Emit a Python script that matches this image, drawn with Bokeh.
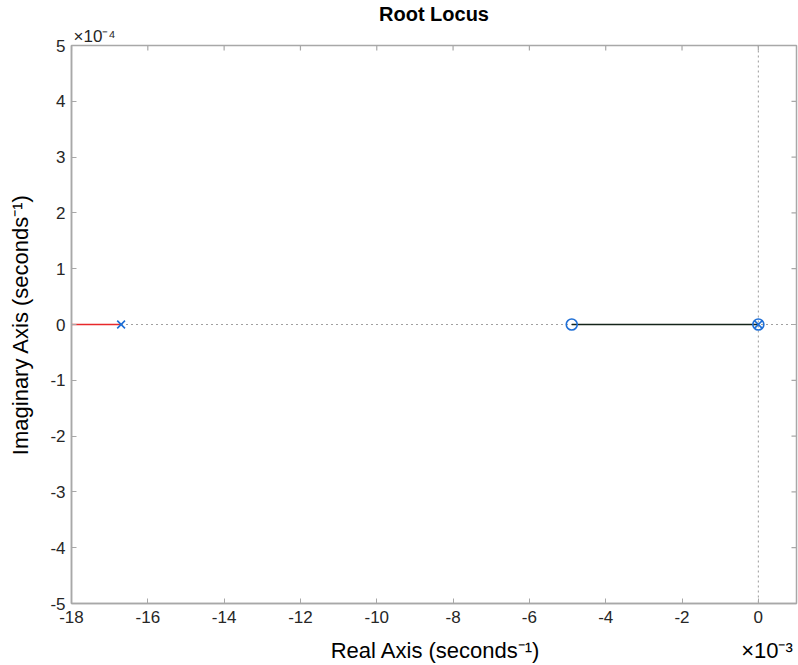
import math
from bokeh.plotting import figure
from bokeh.models import FixedTicker, Span, Title
from bokeh.embed import file_html
from bokeh.resources import INLINE

# open-loop poles and zeros (seconds^-1)
poles_re = [-0.0167, 0.0]
poles_im = [0.0, 0.0]
zeros_re = [-0.00489, 0.0]
zeros_im = [0.0, 0.0]

# axis scaling shown as exponent multipliers
x_scale = 1e3   # x10^-3
y_scale = 1e4   # x10^-4
x_limits = (-18, 1)
y_limits = (-5, 5)
x_ticks = list(range(-18, 1, 2))
y_ticks = list(range(-5, 6))

x_label = "Real Axis (seconds⁻¹)"
y_label = "Imaginary Axis (seconds⁻¹)"
x_exponent = "×10⁻³"
y_exponent = "×10⁻⁴"

FONT = "Liberation Sans"
FRAME = "#a8a8a8"
TXT = "#262626"
BLUE = "#1f6fd6"
NBSP = "\u00a0"

p = figure(width=798, height=665, x_range=x_limits, y_range=y_limits,
           output_backend="svg", toolbar_location=None,
           min_border_left=71, min_border_right=2, min_border_top=44, min_border_bottom=62)
p.title_location = None
p.background_fill_color = "white"
p.border_fill_color = "white"
p.outline_line_color = FRAME
p.outline_line_width = 1.5
p.grid.visible = False

# y exponent just above the box, chart title above that
p.add_layout(Title(text=y_exponent, align="left", offset=2, standoff=0, text_font=FONT,
                   text_font_size="17px", text_font_style="normal", text_color=TXT), "above")
p.add_layout(Title(text="Root Locus", align="center", standoff=0, text_font=FONT,
                   text_font_size="20px", text_font_style="bold", text_color="black"), "above")

for ax in (p.xaxis[0], p.yaxis[0]):
    ax.major_tick_in = 5
    ax.major_tick_out = 0
    ax.minor_tick_in = 0
    ax.minor_tick_out = 0
    ax.axis_line_color = FRAME
    ax.axis_line_width = 1.5
    ax.major_tick_line_color = FRAME
    ax.major_label_text_font = FONT
    ax.major_label_text_font_size = "17px"
    ax.major_label_text_color = TXT
    ax.axis_label_text_font = FONT
    ax.axis_label_text_font_size = "22px"
    ax.axis_label_text_font_style = "normal"
    ax.axis_label_text_color = "black"

# the x exponent shares the x-label row at the lower-right corner; the padding keeps
# the axis title itself centred under the box
p.xaxis[0].axis_label = NBSP * 42 + x_label + NBSP * 33 + x_exponent
p.yaxis[0].axis_label = y_label

p.xaxis[0].ticker = FixedTicker(ticks=x_ticks)
p.yaxis[0].ticker = FixedTicker(ticks=y_ticks)
p.xaxis[0].major_label_overrides = {t: str(t) for t in x_ticks}
p.yaxis[0].major_label_overrides = {t: str(t) for t in y_ticks}
p.xaxis[0].major_label_standoff = 7
p.xaxis[0].axis_label_standoff = 12
p.yaxis[0].major_label_standoff = 6
p.yaxis[0].axis_label_standoff = 14

# mirrored tick marks on the top and right edges of the box (half falls outside and is clipped)
p.scatter(x_ticks, [y_limits[1]] * len(x_ticks), marker="dash", size=10,
          angle=math.pi / 2, line_color=FRAME, line_width=1.2)
p.scatter([x_limits[1]] * len(y_ticks), y_ticks, marker="dash", size=10,
          line_color=FRAME, line_width=1.2)

# reference lines through the origin
p.add_layout(Span(location=0, dimension="height", line_color="#9a9a9a",
                  line_dash="2 3", line_width=1, level="underlay"))
p.add_layout(Span(location=0, dimension="width", line_color="#404040",
                  line_dash="1 4", line_width=1, level="underlay"))

# root locus branches on the real axis
px = [v * x_scale for v in poles_re]
py = [v * y_scale for v in poles_im]
zx = [v * x_scale for v in zeros_re]
zy = [v * y_scale for v in zeros_im]

p.line([x_limits[0], px[0]], [py[0], py[0]], line_color="#e8282b", line_width=1.3)
p.line([zx[0], px[1]], [zy[0], py[1]], line_color="#15241a", line_width=1.3)

p.scatter(px, py, marker="x", size=11, line_color=BLUE, line_width=1.6)
p.scatter(zx, zy, marker="circle", size=11, line_color=BLUE, fill_color=None, line_width=1.6)

open("out.html", "w").write(file_html(p, INLINE))
